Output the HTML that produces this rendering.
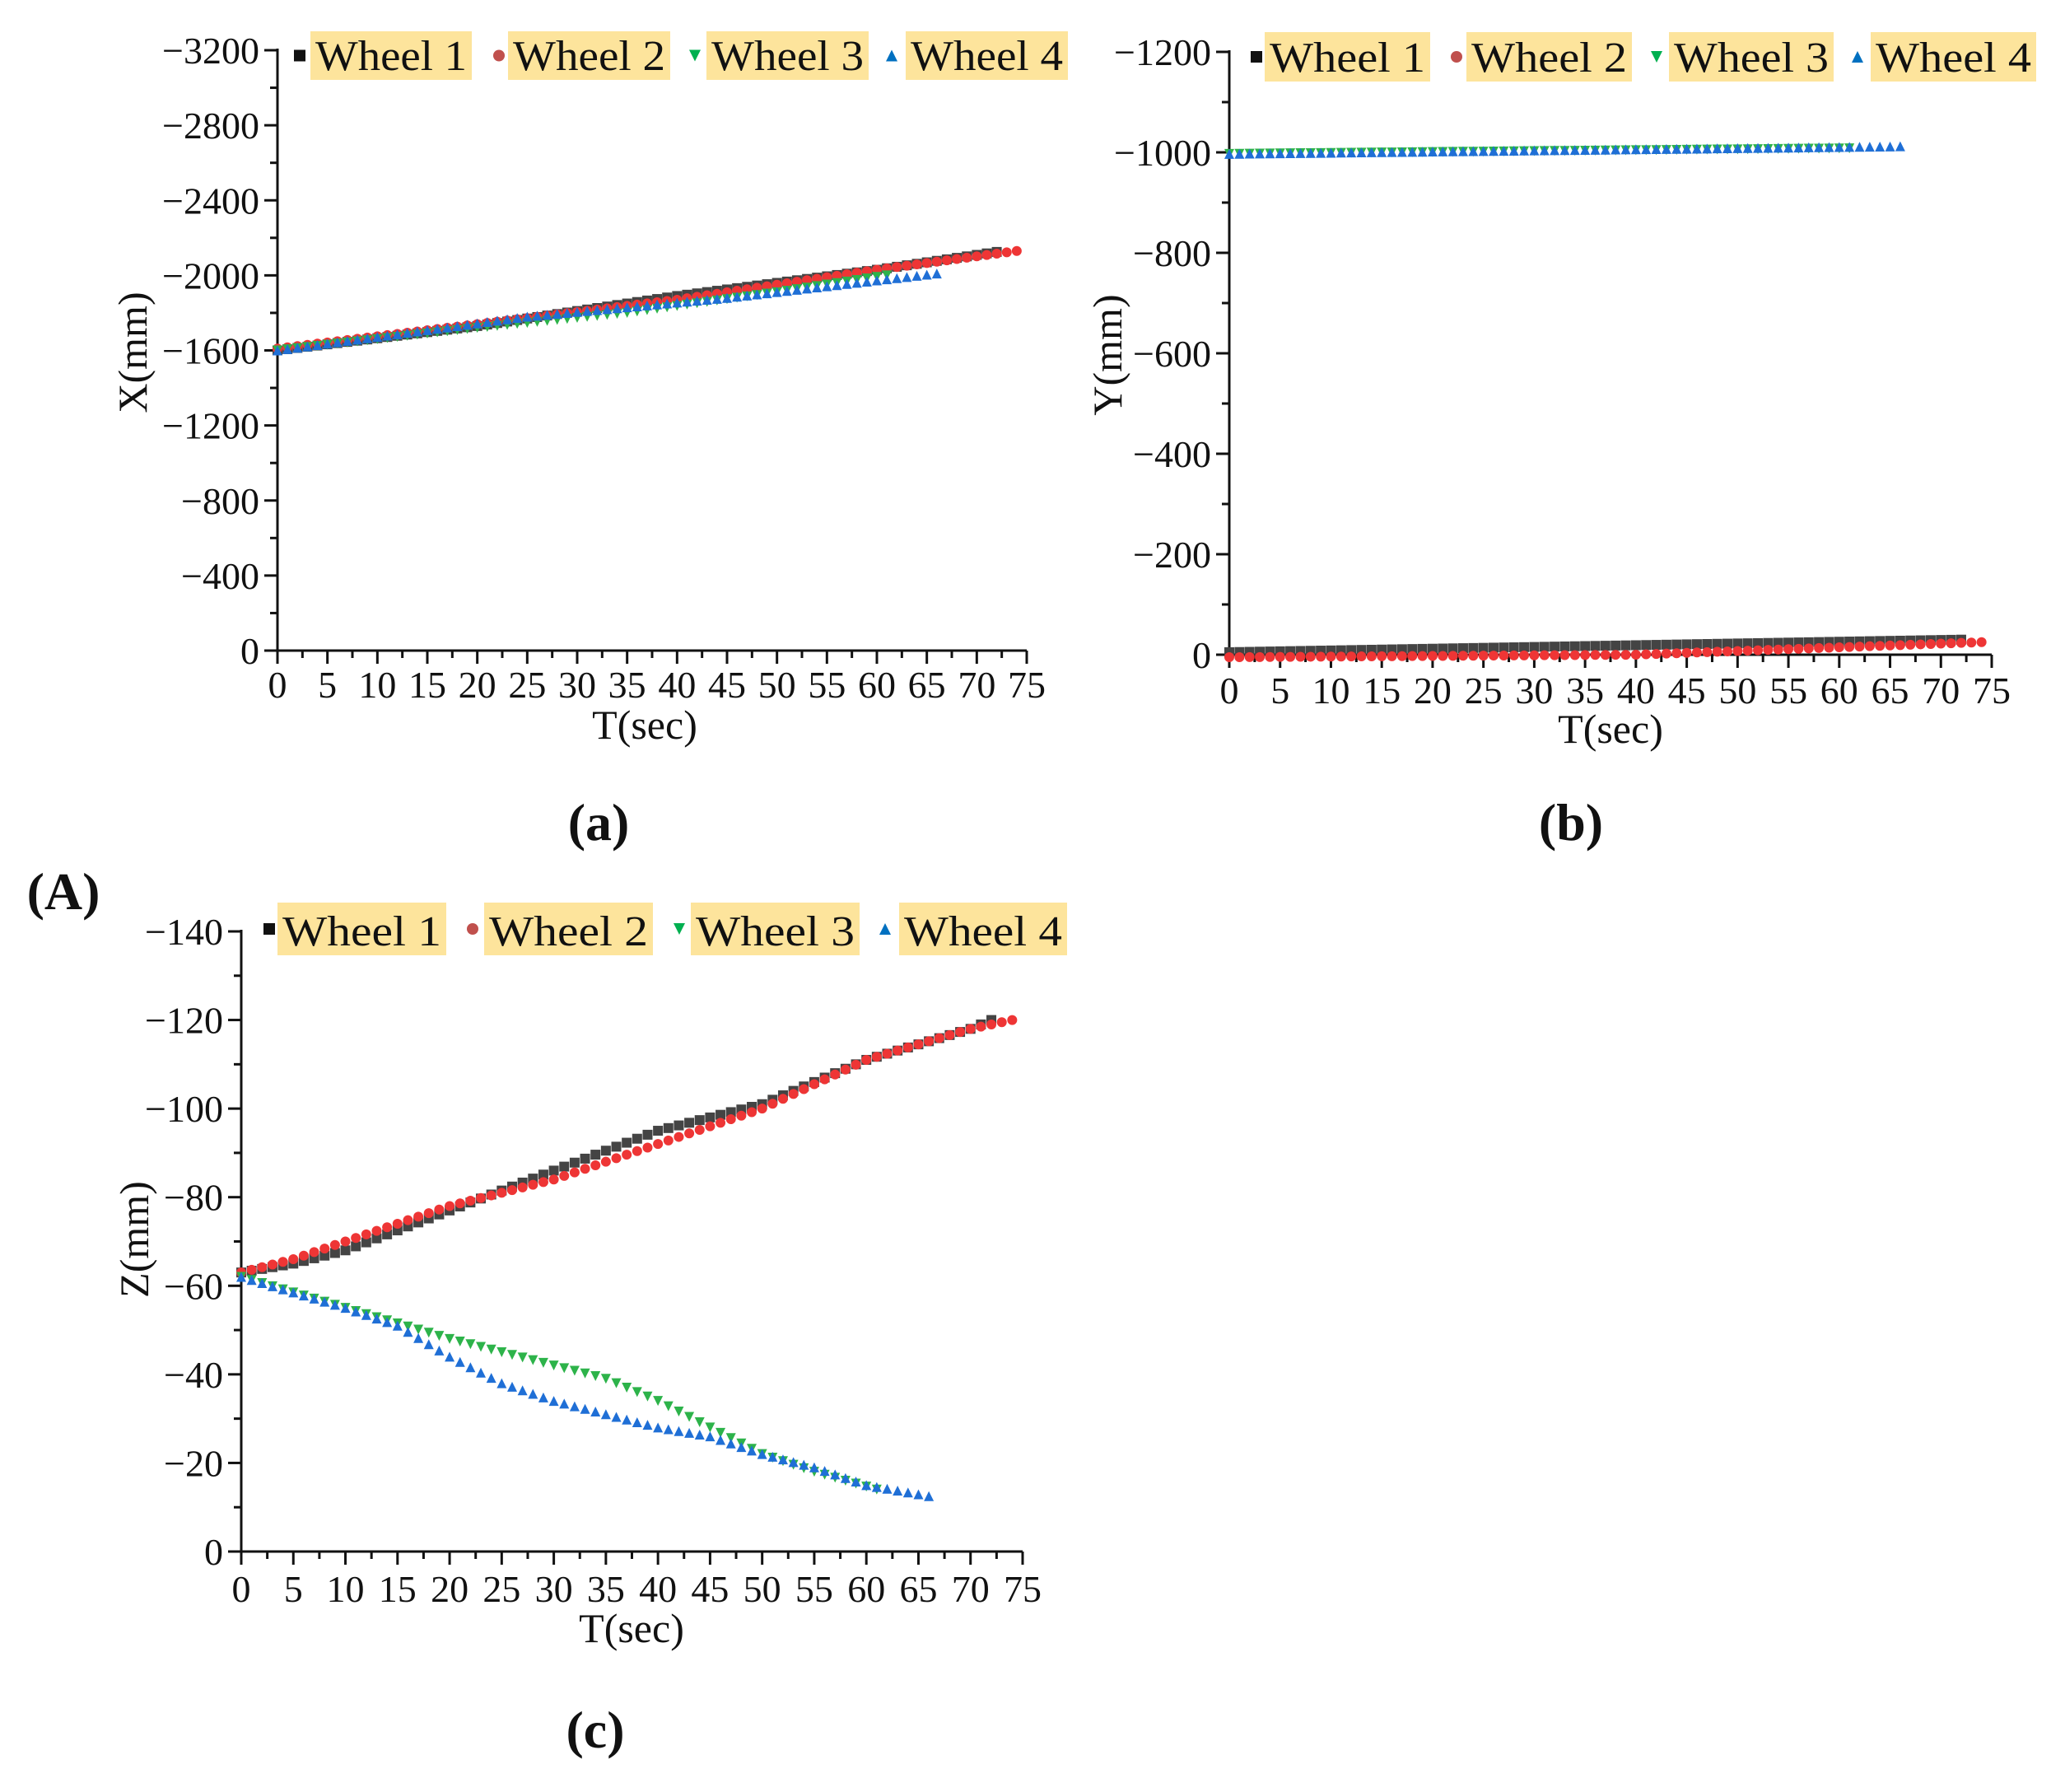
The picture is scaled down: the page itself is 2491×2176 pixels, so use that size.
<!DOCTYPE html>
<html><head><meta charset="utf-8"><style>
html,body{margin:0;padding:0;background:#fff;}
svg text{font-family:"Liberation Serif",serif;fill:#111;}
</style></head><body>
<svg id="s" width="2491" height="2171" xmlns="http://www.w3.org/2000/svg">
<g id="g"></g>
<g font-size="46" text-anchor="middle">
<text x="783" y="897" font-size="50">T(sec)</text>
<text x="1956" y="902" font-size="50">T(sec)</text>
<text x="767" y="1994" font-size="50">T(sec)</text>
<text transform="translate(178,428) rotate(-90)" font-size="50">X(mm)</text>
<text transform="translate(1362,431) rotate(-90)" font-size="50">Y(mm)</text>
<text transform="translate(180,1505) rotate(-90)" font-size="50">Z(mm)</text>
<text x="727" y="1020" font-size="64" font-weight="bold">(a)</text>
<text x="1908" y="1020" font-size="64" font-weight="bold">(b)</text>
<text x="723" y="2122" font-size="64" font-weight="bold">(c)</text>
<text x="77" y="1104" font-size="64" font-weight="bold">(A)</text>
</g>
</svg>
<script>
const NS="http://www.w3.org/2000/svg",G=document.getElementById('g');
function el(t,a,txt){const e=document.createElementNS(NS,t);for(const k in a)e.setAttribute(k,a[k]);if(txt!==undefined)e.textContent=txt;G.appendChild(e);return e;}
function interp(k,t){for(let i=0;i<k.length-1;i++){if(t<=k[i+1][0]){const f=(t-k[i][0])/(k[i+1][0]-k[i][0]);return k[i][1]+f*(k[i+1][1]-k[i][1]);}}return k[k.length-1][1];}
const COL=['#444','#ee3535','#2db34a','#1f6fd6'];
function marker(i,x,y,s,c){c=c||COL[i];
 if(i==0)el('rect',{x:x-s/2,y:y-s/2,width:s,height:s,fill:c});
 else if(i==1)el('circle',{cx:x,cy:y,r:s/2,fill:c});
 else if(i==2)el('polygon',{points:`${x-s/2},${y-s/2} ${x+s/2},${y-s/2} ${x},${y+s/2}`,fill:c});
 else el('polygon',{points:`${x-s/2},${y+s/2} ${x+s/2},${y+s/2} ${x},${y-s/2}`,fill:c});}
function chart(o){
 const X=t=>o.x0+(o.x1-o.x0)*t/75, Y=v=>o.y0+(o.y1-o.y0)*v/o.vmax;
 el('line',{x1:o.x0,y1:o.y1-2,x2:o.x0,y2:o.y0+1.5,stroke:'#111','stroke-width':3});
 el('line',{x1:o.x0-1.5,y1:o.y0,x2:o.x1,y2:o.y0,stroke:'#111','stroke-width':3});
 for(let t=0;t<=75;t+=2.5){const maj=t%5==0;const x=X(t);el('line',{x1:x,y1:o.y0,x2:x,y2:o.y0+(maj?16:9),stroke:'#111','stroke-width':3});
  if(maj)el('text',{x:x,y:o.ty,'font-size':46,'text-anchor':'middle'},String(t));}
 const st=o.step;
 for(let v=0;v<=o.vmax+1e-6;v+=st/2){const maj=Math.abs(v/st-Math.round(v/st))<1e-6;const y=Y(v);el('line',{x1:o.x0,y1:y,x2:o.x0-(maj?16:9),y2:y,stroke:'#111','stroke-width':3});
  if(maj)el('text',{x:o.x0-22,y:y+16,'font-size':46,'text-anchor':'end'},v==0?'0':'\u2212'+v);}
 o.series.forEach((k,i)=>{const end=k[k.length-1][0];for(let t=0;t<=end+1e-6;t+=1){marker(i,X(t),Y(interp(k,t)),12);}});
 o.leg.forEach((l,i)=>{marker(i,l[0],(o.ly0+o.ly1)/2,14,['#111','#c0504d','#00b050','#0070c0'][i]);
  el('rect',{x:l[1],y:o.ly0,width:l[2]-l[1],height:o.ly1-o.ly0,fill:'#fde49c'});
  el('text',{x:l[1]+6,y:o.ly1-12,'font-size':52,textLength:l[2]-l[1]-12,lengthAdjust:'spacingAndGlyphs'},'Wheel '+(i+1));});
}
chart({x0:337,x1:1247,y0:790,y1:61,vmax:3200,step:400,ty:847,ly0:38,ly1:97,
 leg:[[364,377,573],[606,617,814],[844,858,1055],[1083,1100,1297]],
 series:[[[0,1600],[20,1730],[40,1890],[60,2030],[72,2125]],
  [[0,1610],[20,1740],[40,1870],[60,2030],[74,2130]],
  [[0,1600],[20,1720],[35,1800],[50,1910],[61,2000]],
  [[0,1600],[25,1780],[45,1880],[66,2010]]]});
chart({x0:1493,x1:2419,y0:795,y1:63,vmax:1200,step:200,ty:854,ly0:39,ly1:99,
 leg:[[1526,1536,1737],[1769,1781,1982],[2012,2027,2227],[2256,2272,2473]],
 series:[[[0,5],[72,30]],[[0,-5],[40,0],[74,25]],[[0,997],[61,1008]],[[0,997],[66,1012]]]});
chart({x0:293,x1:1242,y0:1884,y1:1131,vmax:140,step:20,ty:1945,ly0:1096,ly1:1160,
 leg:[[327,337,542],[574,588,793],[825,839,1044],[1075,1092,1296]],
 series:[[[0,63],[5,65],[10,68],[20,77],[30,86],[40,95],[45,98],[50,101],[60,111],[70,118],[72,120]],
  [[0,63],[5,66],[10,70],[20,78],[30,84],[40,92],[50,100],[60,111],[70,118],[74,120]],
  [[0,62],[10,55],[20,48],[30,42],[35,39],[40,34],[45,28],[50,22],[55,18],[61,14]],
  [[0,62],[10,55],[15,51],[20,44],[25,38],[30,34],[35,31],[40,28],[45,26],[50,22],[55,19],[60,15],[66,12.5]]]});
</script>
</body></html>
